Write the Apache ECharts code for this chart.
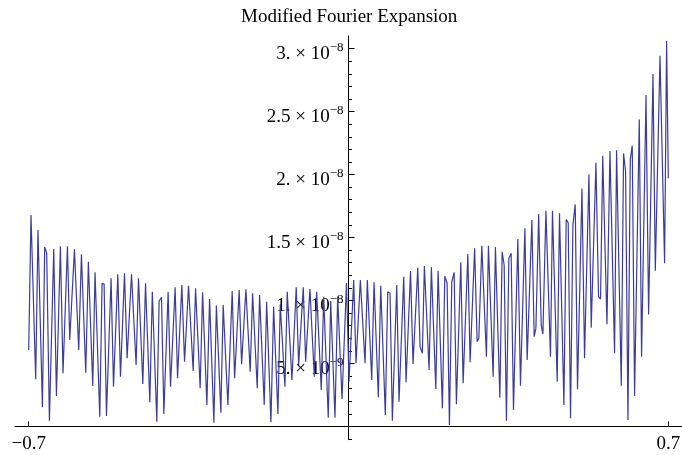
<!DOCTYPE html>
<html><head><meta charset="utf-8">
<script src="https://cdn.jsdelivr.net/npm/echarts@6/dist/echarts.min.js"></script>
<style>html,body{margin:0;padding:0;background:#fff}#c{width:682px;height:455px}</style>
</head><body><div id="c"></div>
<script>
// x values
const xVals = [-0.7000,-0.6950,-0.6847,-0.6797,-0.6700,-0.6650,-0.6606,-0.6547,-0.6452,-0.6393,
-0.6306,-0.6249,-0.6152,-0.6102,-0.5999,-0.5905,-0.5846,-0.5751,-0.5694,-0.5598,
-0.5548,-0.5445,-0.5394,-0.5350,-0.5298,-0.5197,-0.5144,-0.5050,-0.4991,-0.4903,
-0.4846,-0.4750,-0.4649,-0.4597,-0.4502,-0.4443,-0.4349,-0.4294,-0.4196,-0.4145,
-0.4093,-0.4042,-0.3948,-0.3896,-0.3795,-0.3742,-0.3648,-0.3589,-0.3501,-0.3400,
-0.3348,-0.3247,-0.3194,-0.3100,-0.3041,-0.2947,-0.2892,-0.2794,-0.2743,-0.2640,
-0.2546,-0.2493,-0.2393,-0.2340,-0.2246,-0.2152,-0.2099,-0.1998,-0.1946,-0.1845,
-0.1792,-0.1698,-0.1639,-0.1545,-0.1494,-0.1391,-0.1341,-0.1238,-0.1144,-0.1091,
-0.0990,-0.0938,-0.0844,-0.0749,-0.0697,-0.0596,-0.0543,-0.0443,-0.0390,-0.0296,
-0.0237,-0.0142,-0.0044,0.0011,0.0114,0.0164,0.0259,0.0362,0.0412,0.0508,
0.0559,0.0653,0.0705,0.0806,0.0859,0.0909,0.0960,0.1056,0.1106,0.1209,
0.1260,0.1358,0.1413,0.1516,0.1567,0.1617,0.1661,0.1764,0.1814,0.1911,
0.1961,0.2055,0.2108,0.2158,0.2209,0.2261,0.2312,0.2362,0.2458,0.2509,
0.2612,0.2662,0.2761,0.2816,0.2853,0.2918,0.3019,0.3063,0.3166,0.3216,
0.3313,0.3363,0.3407,0.3457,0.3510,0.3560,0.3611,0.3707,0.3764,0.3861,
0.3911,0.4014,0.4064,0.4102,0.4163,0.4218,0.4255,0.4321,0.4421,0.4465,
0.4568,0.4619,0.4715,0.4765,0.4809,0.4860,0.4912,0.4963,0.5013,0.5110,
0.5167,0.5263,0.5313,0.5416,0.5473,0.5517,0.5565,0.5657,0.5723,0.5824,
0.5868,0.5971,0.6021,0.6065,0.6117,0.6168,0.6211,0.6262,0.6365,0.6415,
0.6512,0.6569,0.6665,0.6716,0.6818,0.6919,0.6963,0.7000];
// y values in units of 1e-9
const yValsE9 = [6.07,16.79,3.75,15.60,1.52,14.25,13.75,0.46,14.09,2.42,
14.30,4.22,14.30,6.87,14.06,6.07,13.67,4.27,13.08,3.21,
12.24,0.78,11.37,11.31,0.83,11.76,3.16,12.08,3.95,12.16,
5.41,12.08,4.88,11.76,3.37,11.37,1.92,10.70,0.38,9.96,
10.25,0.99,10.70,3.16,11.05,3.83,11.23,5.14,11.17,4.40,
10.97,3.03,10.65,1.71,10.12,0.30,9.60,1.10,9.64,1.71,
10.75,3.83,10.83,4.94,10.89,4.35,10.57,3.03,10.44,1.71,
9.90,0.33,9.51,0.99,9.70,3.16,10.70,3.69,11.05,4.88,
11.05,5.14,10.91,3.95,10.70,2.90,10.30,0.70,9.96,0.70,
10.30,2.18,11.39,3.56,11.63,5.02,11.63,5.02,11.63,3.69,
11.44,2.32,11.17,0.91,10.70,10.57,0.46,11.23,1.97,11.89,
3.51,12.34,4.96,12.60,6.33,5.81,12.74,4.48,12.63,2.98,
12.37,1.44,11.94,11.39,0.12,11.49,12.24,1.76,13.03,3.43,
13.69,5.10,14.14,6.73,7.00,14.35,5.54,14.35,3.95,14.25,
2.29,13.87,12.82,0.46,13.35,13.75,1.31,14.88,3.24,15.73,
5.28,16.39,7.13,7.79,16.87,8.06,7.34,17.13,5.54,17.13,
3.56,16.92,1.71,16.44,16.17,0.65,15.99,17.63,2.95,18.90,
5.41,20.02,7.84,20.94,10.30,10.12,21.49,8.11,21.87,5.81,
21.92,3.24,21.68,20.22,0.52,21.21,22.29,2.42,24.38,5.54,
26.31,8.90,27.98,12.37,29.43,12.95,30.60,19.70];
const yTickValues = [5, 10, 15, 20, 25, 30];
const yTickMantissa = ['5.', '1.', '1.5', '2.', '2.5', '3.'];
const yTickExponent = ['\u22129', '\u22128', '\u22128', '\u22128', '\u22128', '\u22128'];
const yMinorValues = [-1, 1, 2, 3, 4, 6, 7, 8, 9, 11, 12, 13, 14, 16, 17, 18, 19, 21, 22, 23, 24, 26, 27, 28, 29];
const xTickValues = [-0.7, 0.7];
const xTickLabels = ['\u22120.7', '0.7'];
const titleText = 'Modified Fourier Expansion';

const FONT = '"Liberation Serif", "Times New Roman", serif';
const data = xVals.map((x, i) => [x, yValsE9[i]]);
const chart = echarts.init(document.getElementById('c'), null, {renderer: 'canvas'});
const yMin = -1.05, yMax = 31.0, xMin = -0.73, xMax = 0.73;
// grid geometry: x=0 at 348.5px, y=0 at 426.5px
const gTop = 36, gLeft = 15, gBottom = 15.3;
const zeroLeft = 348.5, zeroBottom = 455 - 426.5;
const noBounds = {containLabel: false, outerBoundsMode: 'none'};
chart.setOption({
  animation: false,
  title: {text: titleText, left: 236, top: 3,
    textStyle: {fontFamily: FONT, fontSize: 19, fontWeight: 'normal', color: '#000'}},
  grid: [
    Object.assign({left: gLeft, right: 0, top: gTop, bottom: gBottom}, noBounds),
    Object.assign({left: gLeft, right: 0, top: gTop, bottom: zeroBottom}, noBounds),
    Object.assign({left: zeroLeft, right: 0, top: gTop, bottom: zeroBottom}, noBounds)
  ],
  xAxis: [{
    gridIndex: 0, type: 'value', min: xMin, max: xMax,
    axisLine: {onZero: true, lineStyle: {color: '#000', width: 1}},
    axisTick: {show: false}, axisLabel: {show: false}, splitLine: {show: false}
  }, {
    gridIndex: 1, type: 'value', min: xMin, max: xMax, position: 'bottom',
    axisLine: {show: false, onZero: false},
    axisTick: {inside: true, length: 5, customValues: xTickValues, lineStyle: {color: '#000'}},
    axisLabel: {customValues: xTickValues, margin: 8, fontFamily: FONT, fontSize: 19, color: '#000',
      formatter: v => xTickLabels[xTickValues.findIndex(t => Math.abs(t - v) < 1e-6)] || ''},
    splitLine: {show: false}
  }, {
    gridIndex: 2, type: 'value', min: 0, max: xMax, show: false, splitLine: {show: false}
  }],
  yAxis: [{
    gridIndex: 0, type: 'value', min: yMin, max: yMax, position: 'left',
    axisLine: {onZero: true, lineStyle: {color: '#000', width: 1}},
    axisTick: {inside: true, length: 3.5, customValues: yMinorValues, lineStyle: {color: '#000'}},
    axisLabel: {show: false}, splitLine: {show: false}
  }, {
    gridIndex: 1, type: 'value', min: 0, max: yMax, show: false, splitLine: {show: false}
  }, {
    gridIndex: 2, type: 'value', min: 0, max: yMax, position: 'left',
    axisLine: {show: false, onZero: false},
    axisTick: {inside: true, length: 6, customValues: yTickValues, lineStyle: {color: '#000'}},
    axisLabel: {customValues: yTickValues, margin: 5, padding: [7, 0, 0, 0],
      formatter: v => {
        const i = yTickValues.findIndex(t => Math.abs(t - v) < 1e-6);
        if (i < 0) return '';
        return '{b|' + yTickMantissa[i] + ' \u00d7 10}{s|' + yTickExponent[i] + '}';
      },
      rich: {
        b: {fontFamily: FONT, fontSize: 19, lineHeight: 22, color: '#000', verticalAlign: 'bottom'},
        s: {fontFamily: FONT, fontSize: 13, lineHeight: 13, color: '#000', verticalAlign: 'top'}
      }
    },
    splitLine: {show: false}
  }],
  series: [{
    type: 'line', xAxisIndex: 0, yAxisIndex: 0, data: data,
    showSymbol: false, symbol: 'none',
    lineStyle: {color: '#3d3d99', width: 1.2}
  }]
});
</script>
</body></html>
